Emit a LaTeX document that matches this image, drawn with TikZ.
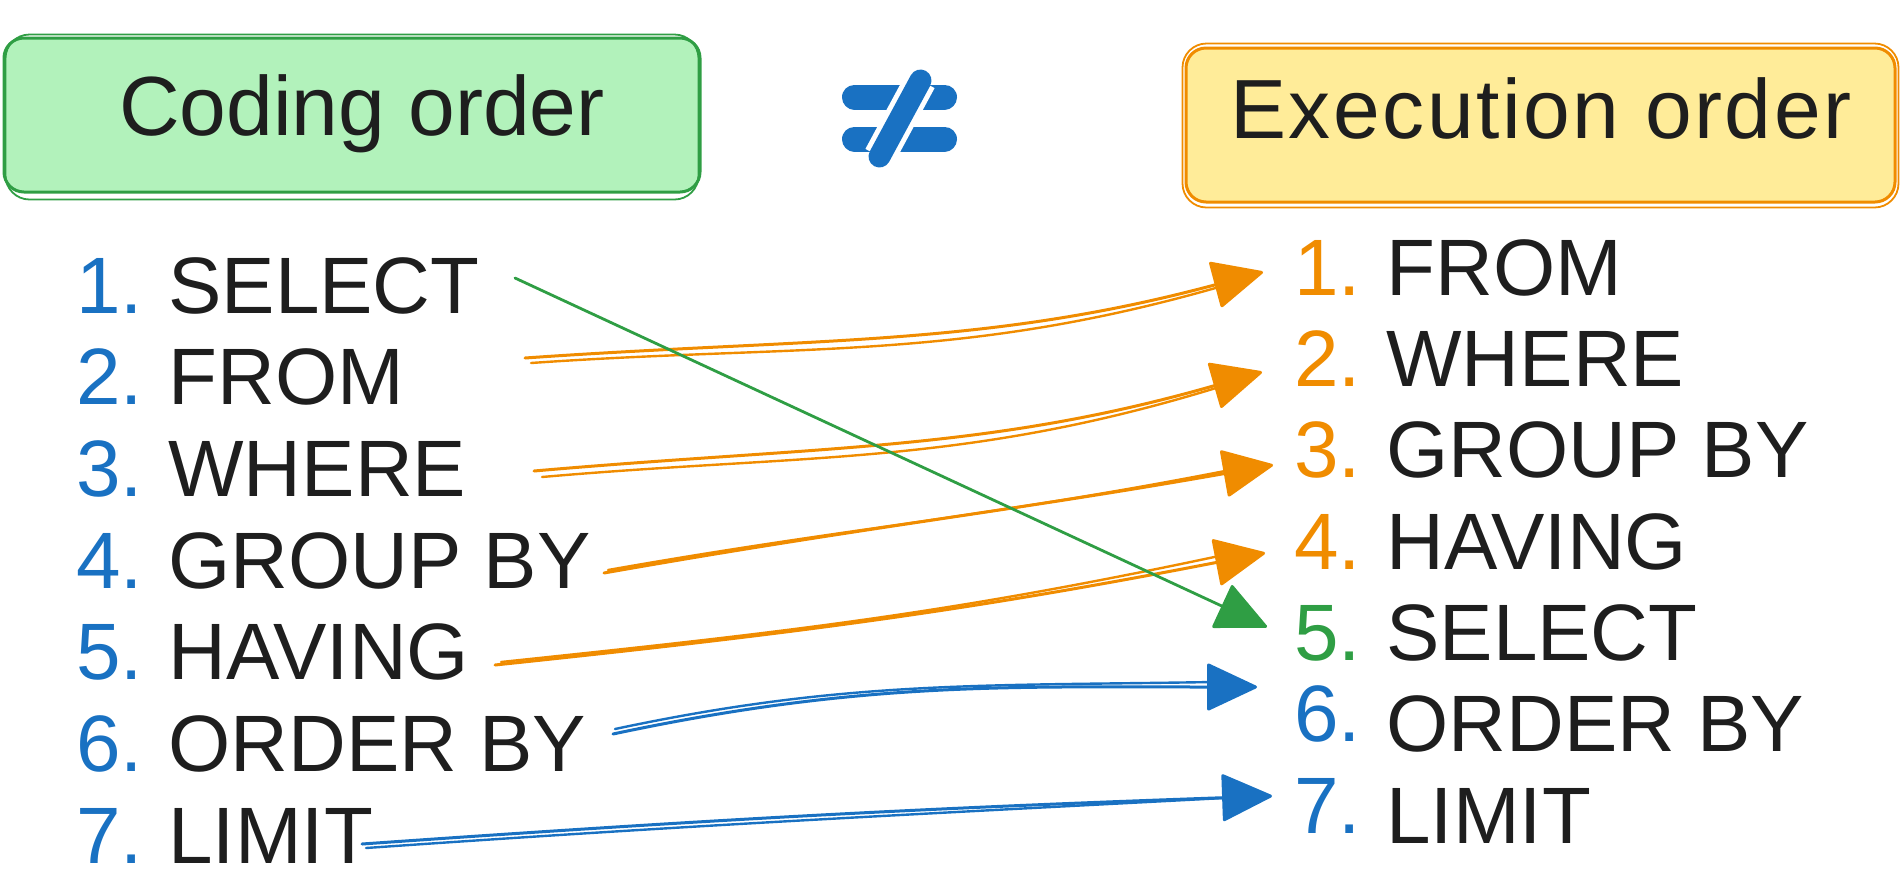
\documentclass[tikz,border=0pt]{standalone}
\usepackage{fontspec}
\setmainfont{Liberation Sans}
\usetikzlibrary{arrows.meta}
\definecolor{cblue}{HTML}{1971C2}
\definecolor{corange}{HTML}{F08C00}
\definecolor{cgreen}{HTML}{2F9E44}
\definecolor{gfill}{HTML}{B2F2BB}
\definecolor{yfill}{HTML}{FFEC99}
\definecolor{ink}{HTML}{1E1E1E}
\newcommand{\numbox}[2]{\makebox[46pt][l]{\color{#1}#2}}
\begin{document}
\begin{tikzpicture}[x=0.5pt,y=-0.5pt,
  listtext/.style={anchor=base west, inner sep=0pt, text=ink, font=\fontsize{40pt}{48pt}\selectfont},
  headtext/.style={anchor=base, inner sep=0pt, text=ink, font=\fontsize{42pt}{50pt}\selectfont},
  hbox/.style={rectangle, rounded corners=10pt, line width=1.5pt, inner sep=0pt},
  conn/.style={line width=1.5pt, line cap=round, line join=round, -{Triangle[length=26pt,width=24pt,round]}},
  ghost/.style={line width=1.2pt, line cap=round},
  bar/.style={cblue, line width=12.5pt, line cap=round}
  ]
\useasboundingbox (0,0) rectangle (1902,885);

% header boxes
\node[hbox, fill=gfill, draw=cgreen, minimum width=348pt, minimum height=77pt] (cbox) at (352,115) {};
\draw[cgreen, line width=0.9pt, rounded corners=12pt] ([shift={(3,-2)}]cbox.north west) rectangle ([shift={(-3,6)}]cbox.south east);
\node[headtext] (ctext) at (362,135) {Coding order};

\node[hbox, fill=yfill, draw=corange, minimum width=354.5pt, minimum height=77pt] (ebox) at (1540.5,125) {};
\draw[corange, line width=0.9pt, rounded corners=12pt] ([shift={(-2,-3)}]ebox.north west) rectangle ([shift={(2,4)}]ebox.south east);
\node[headtext] (etext) at (1541,138) {\addfontfeatures{LetterSpace=3}Execution order};

% not-equal sign
\coordinate (ne1) at (854.5,97);
\coordinate (ne2) at (944.5,97);
\coordinate (ne3) at (854.5,139);
\coordinate (ne4) at (944.5,139);
\coordinate (ns1) at (879.5,156.5);
\coordinate (ns2) at (920.5,80.5);
\draw[bar] (ne1) -- (ne2);
\draw[bar] (ne3) -- (ne4);
\draw[white, line width=16pt] (ns1) -- (ns2);
\draw[bar, line width=11pt] (ns1) -- (ns2);

% left list
\node[listtext] (l1) at (76,313)   {\numbox{cblue}{1.}SELECT};
\node[listtext] (l2) at (76,404.7) {\numbox{cblue}{2.}FROM};
\node[listtext] (l3) at (76,496.3) {\numbox{cblue}{3.}WHERE};
\node[listtext] (l4) at (76,588)   {\numbox{cblue}{4.}GROUP BY};
\node[listtext] (l5) at (76,679.7) {\numbox{cblue}{5.}HAVING};
\node[listtext] (l6) at (76,771.3) {\numbox{cblue}{6.}ORDER BY};
\node[listtext] (l7) at (76,863)   {\numbox{cblue}{7.}LIMIT};

% right list
\node[listtext] (r1) at (1294,295)   {\numbox{corange}{1.}FROM};
\node[listtext] (r2) at (1294,386.3) {\numbox{corange}{2.}WHERE};
\node[listtext] (r3) at (1294,477.7) {\numbox{corange}{3.}GROUP BY};
\node[listtext] (r4) at (1294,569)   {\numbox{corange}{4.}HAVING};
\node[listtext] (r5) at (1294,660.3) {\numbox{cgreen}{5.}SELECT};
\node[listtext] (r6) at (1294,751.7) {\raisebox{5pt}{\numbox{cblue}{6.}}ORDER BY};
\node[listtext] (r7) at (1294,843)   {\raisebox{5pt}{\numbox{cblue}{7.}}LIMIT};

% connector end points
\coordinate (sSel) at (515,278);   \coordinate (eSel) at (1267,627);
\coordinate (sFro) at (525,358);   \coordinate (eFro) at (1263,272);
\coordinate (sWhe) at (534,471);   \coordinate (eWhe) at (1262,372);
\coordinate (sGro) at (604,573);   \coordinate (eGro) at (1273,465);
\coordinate (sHav) at (495,665);   \coordinate (eHav) at (1265,553);
\coordinate (sOrd) at (613,734);   \coordinate (eOrd) at (1257,687);
\coordinate (sLim) at (362,844);   \coordinate (eLim) at (1272,796);

% orange connectors
\draw[conn, corange] (sFro) to[out=4,in=195] (eFro);
\draw[ghost, corange] ([shift={(6,5)}]sFro) to[out=4,in=196] ([shift={(-44,15)}]eFro);
\draw[conn, corange] (sWhe) to[out=5,in=196] (eWhe);
\draw[ghost, corange] ([shift={(8,6)}]sWhe) to[out=5,in=197] ([shift={(-46,16)}]eWhe);
\draw[conn, corange] (sGro) to[out=10,in=190] (eGro);
\draw[ghost, corange] ([shift={(4,-3)}]sGro) to[out=10,in=191] ([shift={(-48,6)}]eGro);
\draw[conn, corange] (sHav) to[out=6,in=191] (eHav);
\draw[ghost, corange] ([shift={(6,-3)}]sHav) to[out=6,in=192] ([shift={(-46,3)}]eHav);

% green connector
\draw[conn, cgreen, line width=1.4pt] (sSel) -- (eSel);

% blue connectors
\draw[conn, cblue] (sOrd) to[out=12,in=180] (eOrd);
\draw[ghost, cblue] ([shift={(2,-5)}]sOrd) to[out=12,in=181] ([shift={(-44,-5)}]eOrd);
\draw[conn, cblue] (sLim) to[out=4,in=182] (eLim);
\draw[ghost, cblue] ([shift={(4,4)}]sLim) to[out=4,in=183] ([shift={(-48,2)}]eLim);
\end{tikzpicture}
\end{document}
